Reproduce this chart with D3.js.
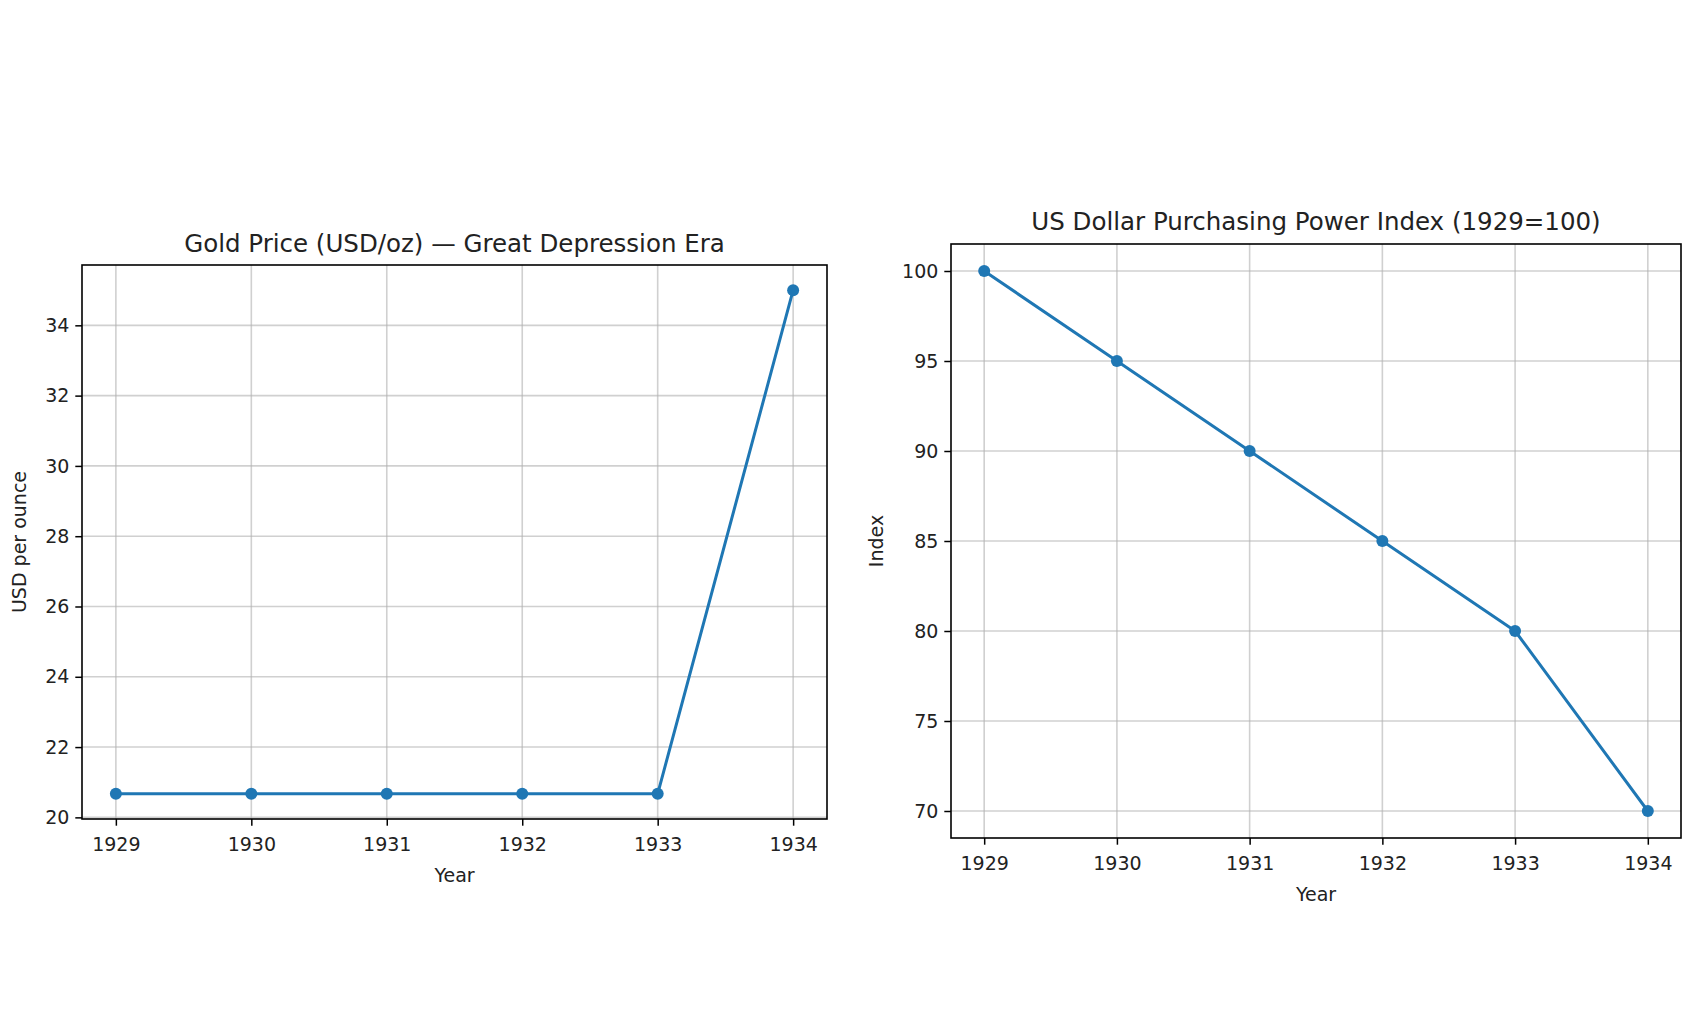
<!DOCTYPE html>
<html>
<head>
<meta charset="utf-8">
<script src="https://cdn.jsdelivr.net/npm/d3@7"></script>
<style>
  html, body { margin: 0; padding: 0; background: #ffffff; }
  svg { display: block; font-family: "DejaVu Sans", sans-serif; }
</style>
</head>
<body>
<svg id="chart" width="1700" height="1020"></svg>
<script>
// ---- Data ----
const years = [1929, 1930, 1931, 1932, 1933, 1934];
const goldPrice = [20.67, 20.67, 20.67, 20.67, 20.67, 35.00];
const purchasingPower = [100, 95, 90, 85, 80, 70];
const goldTicks = [20, 22, 24, 26, 28, 30, 32, 34];
const powerTicks = [70, 75, 80, 85, 90, 95, 100];
const goldTitle = "Gold Price (USD/oz) \u2014 Great Depression Era";
const powerTitle = "US Dollar Purchasing Power Index (1929=100)";

const svg = d3.select("#chart");
const COLOR = "#1f77b4";

function padDomain(vals, frac) {
  const mn = d3.min(vals), mx = d3.max(vals);
  const p = (mx - mn) * frac;
  return [mn - p, mx + p];
}

function panel(opts) {
  const { left, right, top, bottom, values, yTicks, title, titleY, ylabel, ylabelX } = opts;
  const g = svg.append("g");
  const x = d3.scaleLinear().domain(padDomain(years, 0.05)).range([left, right]);
  const y = d3.scaleLinear().domain(padDomain(values, 0.05)).range([bottom, top]);

  // grid
  const grid = g.append("g");
  grid.selectAll("line.vx").data(years).join("line")
    .attr("x1", d => x(d)).attr("x2", d => x(d))
    .attr("y1", top).attr("y2", bottom)
    .attr("stroke", "#b0b0b0").attr("stroke-opacity", 0.6).attr("stroke-width", 1.6);
  grid.selectAll("line.hy").data(yTicks).join("line")
    .attr("x1", left).attr("x2", right)
    .attr("y1", d => y(d)).attr("y2", d => y(d))
    .attr("stroke", "#b0b0b0").attr("stroke-opacity", 0.6).attr("stroke-width", 1.6);

  // line
  const pts = years.map((yr, i) => [yr, values[i]]);
  g.append("path").datum(pts)
    .attr("fill", "none").attr("stroke", COLOR).attr("stroke-width", 3)
    .attr("stroke-linejoin", "round")
    .attr("d", d3.line().x(d => x(d[0])).y(d => y(d[1])));
  g.selectAll("circle").data(pts).join("circle")
    .attr("cx", d => x(d[0])).attr("cy", d => y(d[1])).attr("r", 6)
    .attr("fill", COLOR);

  // axes
  const xa = g.append("g").attr("transform", `translate(0,${bottom})`)
    .call(d3.axisBottom(x).tickValues(years).tickFormat(d3.format("d")).tickSize(6.7).tickPadding(12));
  const ya = g.append("g").attr("transform", `translate(${left},0)`)
    .call(d3.axisLeft(y).tickValues(yTicks).tickFormat(d3.format("d")).tickSize(6.7).tickPadding(6));
  [xa, ya].forEach(a => {
    a.select(".domain").remove();
    a.selectAll("line").attr("stroke", "#000").attr("stroke-width", 1.5);
    a.selectAll("text").attr("font-size", 19).attr("fill", "#222").attr("font-family", "DejaVu Sans, sans-serif");
  });

  // frame
  g.append("rect").attr("x", left).attr("y", top)
    .attr("width", right - left).attr("height", bottom - top)
    .attr("fill", "none").attr("stroke", "#000").attr("stroke-width", 1.6);

  // title
  g.append("text").attr("x", (left + right) / 2).attr("y", titleY)
    .attr("text-anchor", "middle").attr("font-size", 24.5).attr("fill", "#222")
    .text(title);
  // x label
  g.append("text").attr("x", (left + right) / 2).attr("y", bottom + 63)
    .attr("text-anchor", "middle").attr("font-size", 19).attr("fill", "#222")
    .text("Year");
  // y label
  g.append("text")
    .attr("transform", `translate(${ylabelX},${(top + bottom) / 2}) rotate(-90)`)
    .attr("text-anchor", "middle").attr("font-size", 19).attr("fill", "#222")
    .text(ylabel);
}

panel({ left: 82, right: 827, top: 265, bottom: 819, values: goldPrice, yTicks: goldTicks,
        title: goldTitle, titleY: 252, ylabel: "USD per ounce", ylabelX: 26 });
panel({ left: 951, right: 1681, top: 244, bottom: 838, values: purchasingPower, yTicks: powerTicks,
        title: powerTitle, titleY: 230, ylabel: "Index", ylabelX: 883 });
</script>
</body>
</html>
